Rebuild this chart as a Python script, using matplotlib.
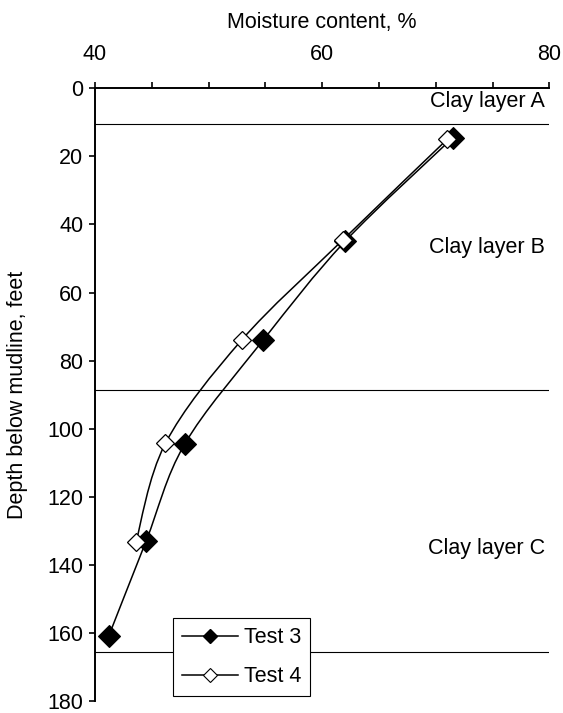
import matplotlib
matplotlib.use("Agg")
import matplotlib.pyplot as plt
from matplotlib.path import Path
from matplotlib.patches import PathPatch
from matplotlib.lines import Line2D

plt.rcParams["font.family"] = ["Liberation Sans", "DejaVu Sans"]
FS = 15.5

# ---- data ----
test3_moist = [71.5, 62.0, 54.8, 47.9, 44.5, 41.2]
test3_depth = [14.5, 45.0, 74.0, 104.5, 133.0, 161.0]
test4_moist = [71.0, 61.8, 52.9, 46.2, 43.6]
test4_depth = [15.0, 44.6, 74.0, 104.3, 133.4]
layer_bounds = [10.5, 88.5, 165.5]            # depth of layer boundaries, feet
layer_names = ["Clay layer A", "Clay layer B", "Clay layer C"]
layer_label_depth = [5.4, 48.5, 136.8]
x_ticks = [40, 45, 50, 55, 60, 65, 70, 75, 80]
x_ticklabels = ["40", "", "", "", "60", "", "", "", "80"]
y_ticks = list(range(0, 181, 20))


def smooth_path(xs, ys):
    # Excel-style smoothed line: Catmull-Rom segments as cubic Beziers
    pts = list(zip(xs, ys))
    verts = [pts[0]]; codes = [Path.MOVETO]
    for i in range(len(pts) - 1):
        p0 = pts[i - 1] if i > 0 else pts[i]
        p1, p2 = pts[i], pts[i + 1]
        p3 = pts[i + 2] if i + 2 < len(pts) else pts[i + 1]
        c1 = (p1[0] + (p2[0] - p0[0]) / 6, p1[1] + (p2[1] - p0[1]) / 6)
        c2 = (p2[0] - (p3[0] - p1[0]) / 6, p2[1] - (p3[1] - p1[1]) / 6)
        verts += [c1, c2, p2]; codes += [Path.CURVE4] * 3
    return Path(verts, codes)


fig = plt.figure(figsize=(5.63, 7.13), dpi=100)
ax = fig.add_axes([0.1687, 0.0168, 0.8073, 0.8594])

for d in layer_bounds:
    ax.axhline(d, color="black", lw=0.8, zorder=1)

ax.add_patch(PathPatch(smooth_path(test3_moist, test3_depth), fill=False, lw=1.1, ec="black", zorder=2))
ax.add_patch(PathPatch(smooth_path(test4_moist, test4_depth), fill=False, lw=1.1, ec="black", zorder=2))
ax.plot(test3_moist, test3_depth, ls="none", marker="D", ms=11, mfc="black", mec="black", mew=0.8, zorder=3)
ax.plot(test4_moist, test4_depth, ls="none", marker="D", ms=9, mfc="white", mec="black", mew=0.9, zorder=4)

for name, d in zip(layer_names, layer_label_depth):
    ax.text(79.6, d, name, ha="right", va="baseline", fontsize=FS)

ax.set_xlim(40, 80)
ax.set_ylim(180, 0)
ax.xaxis.tick_top()
ax.xaxis.set_label_position("top")
ax.set_xticks(x_ticks)
ax.set_xticklabels(x_ticklabels)
ax.set_yticks(y_ticks)
ax.tick_params(axis="x", direction="out", length=4, width=1.2, pad=12.5, labelsize=FS)
ax.tick_params(axis="y", direction="out", length=4.5, width=1.2, pad=4, labelsize=FS)
ax.spines["right"].set_visible(False)
ax.spines["bottom"].set_visible(False)
ax.spines["top"].set_linewidth(1.4)
ax.spines["left"].set_linewidth(1.4)
ax.set_xlabel("Moisture content, %", fontsize=FS, labelpad=11.5)
ax.set_ylabel("Depth below mudline, feet", fontsize=FS, labelpad=14)

handles = [Line2D([], [], color="black", lw=1.1, marker="D", ms=7, mfc="black", mec="black"),
           Line2D([], [], color="black", lw=1.1, marker="D", ms=7, mfc="white", mec="black", mew=0.8)]
leg = ax.legend(handles, ["Test 3", "Test 4"], loc="lower left", bbox_to_anchor=(0.1716, 0.0082),
                borderaxespad=0, fontsize=FS, handlelength=2.6, handletextpad=0.3,
                labelspacing=0.85, borderpad=0.4, fancybox=False, framealpha=1, edgecolor="black")
leg.get_frame().set_linewidth(0.8)
leg.set_zorder(5)

fig.savefig("out.png", dpi=100)
